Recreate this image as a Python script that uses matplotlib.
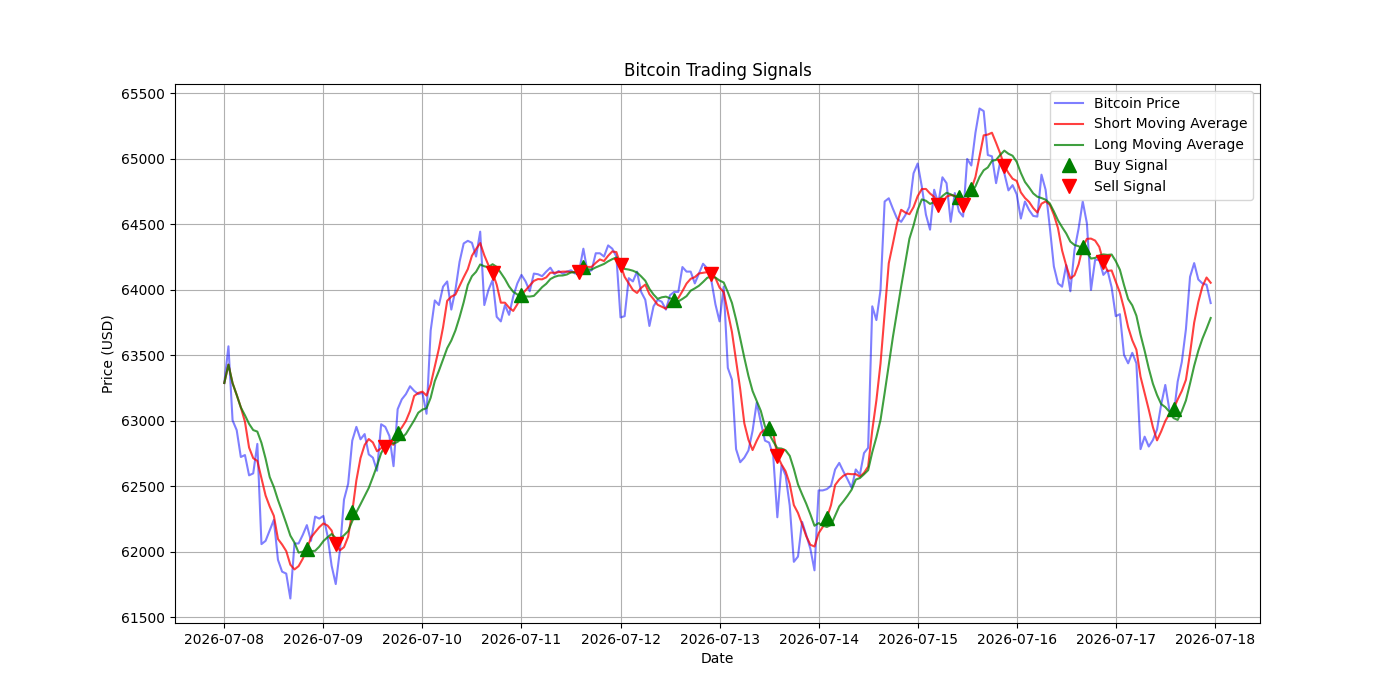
import numpy as np
import pandas as pd
import matplotlib
matplotlib.use('Agg')
import matplotlib.pyplot as plt
import matplotlib.dates as mdates

# hourly prices, 2026-07-08 00:00 .. 2026-07-17 23:00
price = np.array([
    63290, 63570, 63005, 62930, 62725, 62740, 62585, 62600, 62825, 62060, 62085, 62165,
    62245, 61940, 61850, 61835, 61645, 62065, 62065, 62130, 62205, 62085, 62270, 62255,
    62275, 62125, 61895, 61755, 62010, 62400, 62520, 62850, 62955, 62860, 62900, 62745,
    62720, 62620, 62975, 62955, 62885, 62655, 63090, 63165, 63205, 63265, 63230, 63205,
    63215, 63055, 63690, 63920, 63885, 64025, 64065, 63850, 64000, 64215, 64355, 64375,
    64360, 64255, 64445, 63885, 64000, 64075, 63795, 63760, 63885, 63810, 63950, 64050,
    64115, 64065, 63990, 64125, 64120, 64105, 64140, 64170, 64120, 64145, 64125, 64140,
    64150, 64125, 64150, 64315, 64140, 64150, 64280, 64280, 64255, 64340, 64315, 64255,
    63790, 63800, 64090, 64065, 64140, 63985, 63925, 63725, 63875, 63925, 63910, 63850,
    63960, 63985, 63985, 64175, 64140, 64140, 64050, 64125, 64200, 64165, 64075, 63890,
    63760, 64025, 63405, 63315, 62785, 62685, 62720, 62775, 62925, 63140, 62990, 62850,
    62835, 62735, 62265, 62660, 62585, 62355, 61925, 61965, 62230, 62130, 62025, 61860,
    62470, 62470, 62480, 62505, 62630, 62680, 62615, 62555, 62490, 62630, 62590, 62755,
    62795, 63875, 63770, 64000, 64675, 64700, 64620, 64545, 64520, 64570, 64635, 64890,
    64965, 64790, 64575, 64460, 64765, 64660, 64860, 64815, 64520, 64740, 64600, 64560,
    65000, 64950, 65200, 65385, 65365, 65030, 65020, 64815, 64980, 64890, 64760, 64800,
    64730, 64545, 64675, 64610, 64565, 64560, 64880, 64765, 64485, 64180, 64050, 64025,
    64190, 63990, 64305, 64470, 64675, 64510, 64000, 64230, 64230, 64115, 64150, 64020,
    63800, 63815, 63505, 63440, 63520, 63440, 62785, 62880, 62805, 62855, 62935, 63125,
    63275, 63085, 63035, 63300, 63450, 63700, 64100, 64205, 64080, 64050, 64040, 63900,
])

# hours (from start) where the crossovers are marked
buy_hours = [20, 31, 42, 72, 87, 109, 132, 146, 178, 181, 208, 230]
sell_hours = [27, 39, 65, 86, 96, 118, 134, 173, 179, 189, 213]

short_window = 5
long_window = 10

dates = pd.date_range('2026-07-08', periods=len(price), freq='h')
data = pd.DataFrame({'Price': price}, index=dates)
data['Short_MA'] = data['Price'].rolling(short_window, min_periods=1).mean()
data['Long_MA'] = data['Price'].rolling(long_window, min_periods=1).mean()

buys = data.iloc[buy_hours]
sells = data.iloc[sell_hours]

fig = plt.figure(figsize=(14, 7), dpi=100)
plt.plot(data.index, data['Price'], label='Bitcoin Price', color='blue', alpha=0.5)
plt.plot(data.index, data['Short_MA'], label='Short Moving Average', color='red', alpha=0.75)
plt.plot(data.index, data['Long_MA'], label='Long Moving Average', color='green', alpha=0.75)
plt.plot(buys.index, buys['Short_MA'], '^', markersize=10, color='g', label='Buy Signal')
plt.plot(sells.index, sells['Short_MA'], 'v', markersize=10, color='r', label='Sell Signal')

ax = plt.gca()
ax.xaxis.set_major_locator(mdates.DayLocator())
ax.xaxis.set_major_formatter(mdates.DateFormatter('%Y-%m-%d'))

plt.title('Bitcoin Trading Signals')
plt.xlabel('Date')
plt.ylabel('Price (USD)')
plt.legend(loc='upper right')
plt.grid(True)
plt.savefig('out.png')
